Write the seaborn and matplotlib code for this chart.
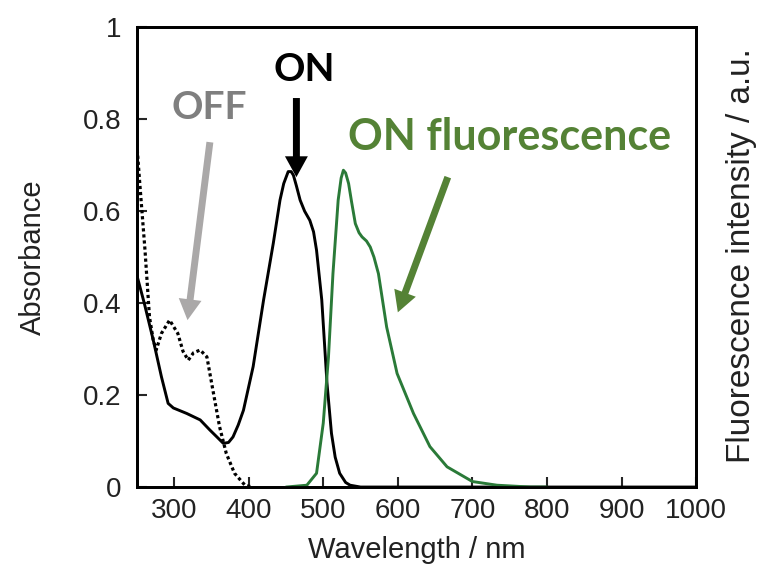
import numpy as np
import pandas as pd
import seaborn as sns
import matplotlib.pyplot as plt

# absorbance, ON state (solid)
wl_on = [250, 260, 272, 283, 292, 299, 317, 335, 348, 358, 366, 373, 379, 386, 393, 406, 420,
         433, 442, 447, 453, 457, 460, 464, 469, 475, 482, 487, 491, 498, 505, 511, 516, 522, 530, 536, 550, 1000]
abs_on = [0.461, 0.40, 0.32, 0.24, 0.182, 0.172, 0.160, 0.146, 0.124, 0.108, 0.095, 0.097, 0.109, 0.135, 0.167, 0.262, 0.407,
          0.53, 0.624, 0.66, 0.686, 0.686, 0.678, 0.655, 0.624, 0.60, 0.58, 0.555, 0.515, 0.407, 0.226, 0.117, 0.065, 0.03, 0.010, 0.004, 0.0, 0.0]

# absorbance, OFF state (dotted)
wl_off = [250, 254, 261, 267, 272, 276, 283, 294, 305, 312, 319, 326, 335, 344, 352, 361, 370, 381, 395, 405]
abs_off = [0.747, 0.66, 0.515, 0.37, 0.32, 0.298, 0.334, 0.363, 0.334, 0.295, 0.276, 0.292, 0.298, 0.283, 0.211, 0.131, 0.073, 0.03, 0.004, 0.0]

# fluorescence, ON state
wl_fl = [450, 478, 491, 500, 507, 513, 520, 524, 527, 530, 534, 538, 543, 548, 552, 558, 563, 568, 574, 585, 599, 621, 643, 666, 700, 733, 778, 800]
fl_on = [0.0, 0.004, 0.03, 0.139, 0.283, 0.464, 0.624, 0.672, 0.689, 0.683, 0.66, 0.62, 0.573, 0.553, 0.544, 0.535, 0.522, 0.50,
         0.464, 0.348, 0.247, 0.16, 0.088, 0.044, 0.012, 0.004, 0.0, 0.0]

x_ticks = [300, 400, 500, 600, 700, 800, 900, 1000]
y_ticks = [0, 0.2, 0.4, 0.6, 0.8, 1]
y_tick_labels = ["0", "0.2", "0.4", "0.6", "0.8", "1"]

sns.set_style("ticks")
plt.rcParams['font.family'] = ['Liberation Sans', 'DejaVu Sans']
plt.rcParams['xtick.direction'] = 'in'
plt.rcParams['ytick.direction'] = 'in'

fig = plt.figure(figsize=(7.6, 5.67), dpi=100)
ax = fig.add_axes([0.180, 0.141, 0.736, 0.811])

df_on = pd.DataFrame({'wl': wl_on, 'a': abs_on})
df_off = pd.DataFrame({'wl': wl_off, 'a': abs_off})
df_fl = pd.DataFrame({'wl': wl_fl, 'f': fl_on})

sns.lineplot(data=df_off, x='wl', y='a', ax=ax, color='black', lw=2.3, linestyle=(0, (1, 0.9)))
sns.lineplot(data=df_on, x='wl', y='a', ax=ax, color='black', lw=2.1)

ax2 = ax.twinx()
sns.lineplot(data=df_fl, x='wl', y='f', ax=ax2, color='#2a7a38', lw=2.1)
ax2.set_ylim(0, 1)
ax2.set_yticks([])
ax2.set_ylabel('')
fig.text(0.976, 0.549, 'Fluorescence intensity / a.u.', rotation=90, fontsize=24,
         ha='center', va='center', color='#222222')

ax.set_xlim(250, 1000)
ax.set_ylim(0, 1)
ax.set_xticks(x_ticks)
ax.set_xticklabels([str(t) for t in x_ticks])
ax.set_yticks(y_ticks)
ax.set_yticklabels(y_tick_labels)
ax.tick_params(labelsize=20, length=7, width=1.5, labelcolor='#222222')
ax.tick_params(axis='x', pad=8)
ax.tick_params(axis='y', pad=11)
ax.set_xlabel('Wavelength / nm', fontsize=21, color='#222222')
ax.set_ylabel('Absorbance', fontsize=21, color='#222222')
ax.xaxis.set_label_coords(0.5, -0.137)
ax.xaxis.label.set_va('center')
ax.yaxis.set_label_coords(-0.186, 0.5)
ax.yaxis.label.set_va('center')
for a in (ax, ax2):
    for s in a.spines.values():
        s.set_linewidth(2)
        s.set_color('black')

# annotations
bold = dict(family=['Lato', 'DejaVu Sans'], fontweight='bold')
arrow = 'simple,head_length=1.5,head_width=1.65,tail_width=0.5'
ax.text(347, 0.826, 'OFF', color='#7f7f7f', ha='center', va='center', fontsize=28, **bold)
ax.annotate('', xy=(318, 0.363), xytext=(348, 0.75),
            arrowprops=dict(arrowstyle=arrow, color='#aaa8a8', lw=0, mutation_scale=10, shrinkA=0, shrinkB=0))
ax.text(475, 0.909, 'ON', color='black', ha='center', va='center', fontsize=28, **bold)
ax.annotate('', xy=(464, 0.674), xytext=(464, 0.846),
            arrowprops=dict(arrowstyle=arrow, color='black', lw=0, mutation_scale=10, shrinkA=0, shrinkB=0))
ax.text(750, 0.761, 'ON fluorescence', color='#548235', ha='center', va='center', fontsize=31, **bold)
ax.annotate('', xy=(600, 0.38), xytext=(667, 0.674),
            arrowprops=dict(arrowstyle=arrow, color='#548235', lw=0, mutation_scale=10, shrinkA=0, shrinkB=0))

fig.savefig('out.png', dpi=100)
